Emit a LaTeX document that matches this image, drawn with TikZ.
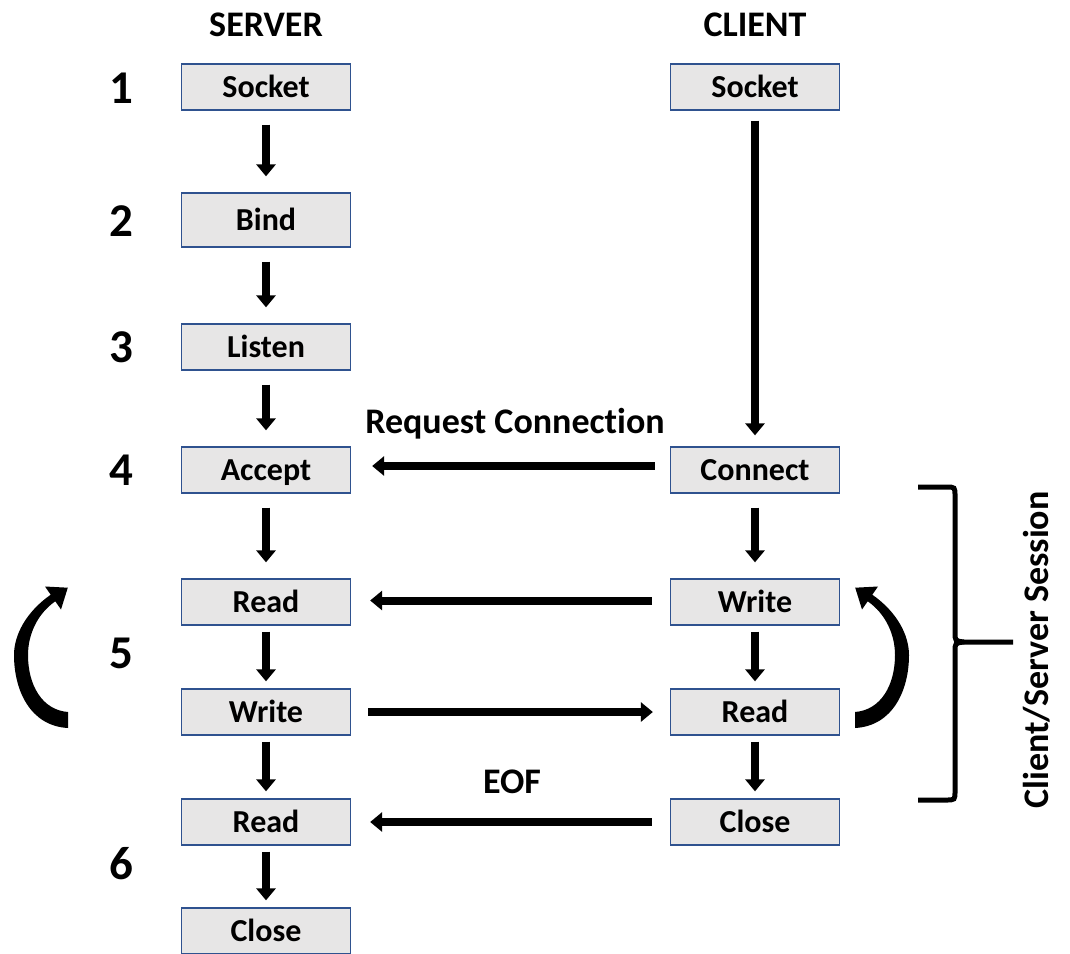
\documentclass[tikz,border=0pt]{standalone}
\usepackage{fontspec}
\setmainfont{Carlito}[Ligatures = NoCommon]
\usepackage{tikz}
\usetikzlibrary{arrows.meta}
\definecolor{BoxFill}{HTML}{E7E6E6}
\definecolor{BoxLine}{HTML}{2F528F}

\tikzset{
  stage/.style = {rectangle, draw = BoxLine, fill = BoxFill, line width = 1.3pt,
    minimum width = 169pt, minimum height = 46pt, inner sep = 0pt,
    font = \fontsize{32}{36}\selectfont\bfseries, text height = 20.5pt, text depth = 0pt},
  headline/.style = {font = \fontsize{36}{40}\selectfont\bfseries, anchor = base},
  stepno/.style = {font = \fontsize{47}{50}\selectfont\bfseries,
    text height = 30pt, text depth = 0pt, inner sep = 0pt},
  flow/.style = {-{Triangle[length = 12pt, width = 19pt]}, line width = 8pt},
  turnarrow/.pic = {
    \fill (0,8) .. controls (-38,6) and (-54,-30) .. (-54,-65)
      .. controls (-54,-85) and (-42,-108) .. (-17.3,-125.3)
      -- (-23,-133.5) -- (-0.2,-132.3) -- (-7,-110.5) -- (-12.7,-118.7)
      .. controls (-31,-106) and (-40,-85) .. (-40,-65)
      .. controls (-40,-35) and (-26,-10) .. (0,-8) -- cycle;
  }
}

\begin{document}
\begin{tikzpicture}[x = 1pt, y = -1pt]
\useasboundingbox (0,0) rectangle (1070,953);

  % headings
\node[headline] (srvhead) at (266,36) {SERVER};
\node[headline] (clihead) at (755,36) {CLIENT};

  % server side
\node[stage] (ssock)  at (266,87)  {Socket};
\node[stage, minimum height = 54pt] (sbind) at (266,220) {Bind};
\node[stage] (slist)  at (266,347) {Listen};
\node[stage] (sacc)   at (266,470) {Accept};
\node[stage] (sread)  at (266,602) {Read};
\node[stage] (swrite) at (266,712) {Write};
\node[stage] (seof)   at (266,822) {Read};
\node[stage] (sclose) at (266,931) {Close};

  % client side
\node[stage] (csock)  at (755,87)  {Socket};
\node[stage] (cconn)  at (755,470) {Connect};
\node[stage] (cwrite) at (755,602) {Write};
\node[stage] (cread)  at (755,712) {Read};
\node[stage] (cclose) at (755,822) {Close};

  % step numbers
\foreach \n/\y in {1/88, 2/221, 3/347, 4/470, 5/653, 6/864}
  \node[stepno] (no\n) at (121,\y) {\n};

  % vertical flow
\foreach \a/\b in {ssock/sbind, sbind/slist, slist/sacc, sacc/sread, cconn/cwrite}
  \draw[flow, shorten <= 14pt, shorten >= 16pt] (\a.south) -- (\b.north);
\foreach \a/\b in {sread/swrite, swrite/seof, seof/sclose, cwrite/cread, cread/cclose}
  \draw[flow, shorten <= 6pt, shorten >= 7pt] (\a.south) -- (\b.north);
\draw[flow, shorten <= 10pt, shorten >= 11pt] (csock.south) -- (cconn.north);

  % messages
\draw[flow, shorten <= 15pt, shorten >= 21pt] ([yshift = 4pt]cconn.west) -- ([yshift = 4pt]sacc.east);
\draw[flow, shorten <= 18pt, shorten >= 19pt] ([yshift = 1.5pt]cwrite.west) -- ([yshift = 1.5pt]sread.east);
\draw[flow, shorten <= 17pt, shorten >= 17pt] (swrite.east) -- (cread.west);
\draw[flow, shorten <= 18pt, shorten >= 19pt] (cclose.west) -- (seof.east);
\node[headline] (reqlbl) at (515,433) {Request Connection};
\node[headline] (eoflbl) at (512,793) {EOF};

  % loops
\pic at (68,720) {turnarrow};
\pic[xscale = -1] at (855,720) {turnarrow};

  % session brace
\draw[line width = 5pt]
  (918,487) -- (946,487) .. controls (955,487) .. (955,496) -- (955,632)
  .. controls (955,641) .. (964,642) -- (1013,642);
\draw[line width = 5pt]
  (964,642) .. controls (955,643) .. (955,652) -- (955,791)
  .. controls (955,800) .. (946,800) -- (918,800);
\node[headline, rotate = 90] (sesslbl) at (1048,650) {Client/Server Session};

\end{tikzpicture}
\end{document}
